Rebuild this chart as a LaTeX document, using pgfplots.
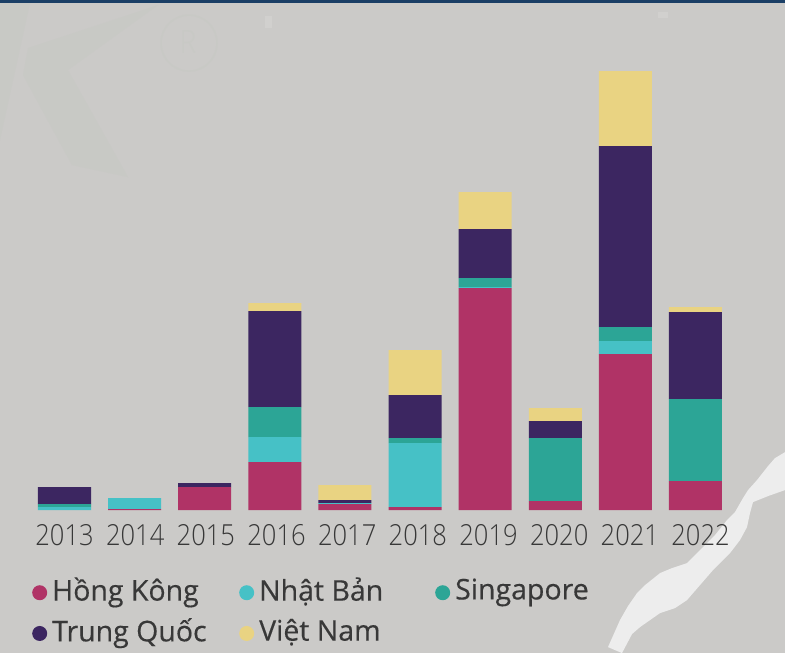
\documentclass[border=0pt]{standalone}
\usepackage{fontspec}
\setmainfont[FakeBold=0.35]{Open Sans}
\newfontfamily\lightf[FakeStretch=0.88]{Open Sans Light}
\usepackage{pgfplots}
\pgfplotsset{compat=1.18}
\definecolor{bgc}{HTML}{CBCAC8}
\definecolor{wmc}{HTML}{C8C9C5}
\definecolor{topc}{HTML}{1B3F66}
\definecolor{hk}{HTML}{B03366}
\definecolor{nb}{HTML}{46C1C6}
\definecolor{sg}{HTML}{2CA596}
\definecolor{tq}{HTML}{3C2661}
\definecolor{vn}{HTML}{E9D382}
\definecolor{txt}{HTML}{383838}
\pgfplotsset{dot/.style={fill=#1, draw=none, legend image code/.code={\fill[#1] (0pt,-3pt) circle (7.5pt);}}}

% bar heights are in reference pixels above the baseline
\pgfplotstableread{
x hk nb sg tq vn
0 0 3 3 17 0
1 1 11 0 0 0
2 23 0 0 4 0
3 48 25 30 96 8
4 6 1 0 3 15
5 3 64 5 43 45
6 222 1 9 49 37
7 9 0 63 17 13
8 156 13 14 181 75
9 29 0 82 87 5
}\investdata

\begin{document}
\begin{tikzpicture}
\begin{scope}[x=1pt,y=-1pt,shift={(0pt,510pt)}]
\fill[bgc] (0,0) rectangle (785,653);
\fill[wmc] (158,5) -- (28,48) -- (23,75) -- (72,165) -- (128,177) -- (68,70) -- cycle;
\fill[wmc] (0,3) -- (30,3) -- (0,140) -- cycle;
\draw[wmc,line width=1.5pt] (189,43) circle (28);
\node[text=wmc,font=\lightf\fontsize{32}{32}\selectfont] at (188,42) {R};
\fill[white,opacity=.12] (265,16) rectangle (272,28);
\fill[white,opacity=.12] (658,12) rectangle (668,18);
\fill[white!93!black] (785,452) -- (775,458) -- (768,466) -- (757,480) -- (748,490) -- (743,498) -- (735,512) -- (727,520) -- (715,535) -- (703,547) -- (687,563) -- (672,568) -- (660,573) -- (645,585) -- (637,593) -- (628,606) -- (620,620) -- (608,647) -- (622,653) -- (632,634) -- (640,627) -- (660,613) -- (675,608) -- (687,600) -- (700,585) -- (713,570) -- (730,553) -- (740,540) -- (747,527) -- (750,513) -- (753,502) -- (768,496) -- (785,490) -- cycle;
\fill[topc] (0,0) rectangle (785,2.5);
\end{scope}
\begin{axis}[
    at={(0pt,0pt)}, anchor=south west,
    scale only axis,
    width=785pt, height=510pt,
    xmin=-0.92, xmax=10.277,
    ymin=0, ymax=510,
    ybar stacked,
    bar width=53pt,
    axis line style={draw=none},
    major tick length=0pt,
    ytick=\empty,
    xtick={0,1.008,2.016,3.024,4.032,5.04,6.048,7.056,8.064,9.072},
    xticklabels={2013,2014,2015,2016,2017,2018,2019,2020,2021,2022},
    xticklabel style={font=\lightf\fontsize{29}{29}\selectfont, text=txt, yshift=-11pt},
    clip=false,
    legend columns=3,
    legend cell align=left,
    legend style={at={(32pt,-65pt)}, anchor=north west, draw=none, fill=none,
        font=\fontsize{28.5}{32}\selectfont, text=txt, inner sep=0pt,
        /tikz/row sep=12pt,
        /tikz/every even column/.append style={column sep=0pt}},
]
\addplot[dot=hk] table[x=x,y=hk] {\investdata};
\addplot[dot=nb] table[x=x,y=nb] {\investdata};
\addplot[dot=sg] table[x=x,y=sg] {\investdata};
\addplot[dot=tq] table[x=x,y=tq] {\investdata};
\addplot[dot=vn] table[x=x,y=vn] {\investdata};
\legend{\makebox[188pt][l]{\hspace{3pt}Hồng Kông},\makebox[177pt][l]{\hspace{3pt}Nhật Bản},\hspace{3pt}Singapore,\makebox[188pt][l]{\hspace{3pt}Trung Quốc},\hspace{3pt}Việt Nam}
\end{axis}
\end{tikzpicture}
\end{document}
